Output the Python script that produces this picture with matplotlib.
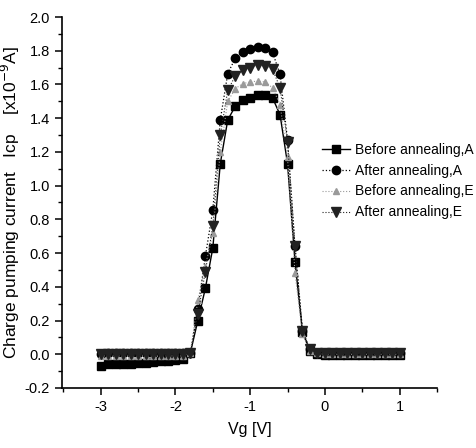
import matplotlib
matplotlib.use("Agg")
import matplotlib.pyplot as plt
from matplotlib.ticker import MultipleLocator

plt.rcParams['font.family'] = ['Liberation Sans', 'DejaVu Sans']
plt.rcParams['axes.unicode_minus'] = False

vg = [-3.0, -2.9, -2.8, -2.7, -2.6, -2.5, -2.4, -2.3, -2.2, -2.1, -2.0,
      -1.9, -1.8, -1.7, -1.6, -1.5, -1.4, -1.3, -1.2, -1.1, -1.0,
      -0.9, -0.8, -0.7, -0.6, -0.5, -0.4, -0.3, -0.2, -0.1, 0.0,
      0.1, 0.2, 0.3, 0.4, 0.5, 0.6, 0.7, 0.8, 0.9, 1.0]

before_A = [-0.07, -0.06, -0.06, -0.055, -0.055, -0.05, -0.05, -0.045, -0.04, -0.04, -0.035,
            -0.03, 0.01, 0.20, 0.39, 0.63, 1.13, 1.39, 1.47, 1.51, 1.52,
            1.535, 1.535, 1.52, 1.42, 1.13, 0.55, 0.13, 0.02, 0.0, -0.005,
            -0.005, -0.005, -0.005, -0.005, -0.005, -0.005, -0.005, -0.005, -0.005, -0.005]

after_A = [0.0, 0.005, 0.005, 0.005, 0.005, 0.005, 0.005, 0.005, 0.005, 0.005, 0.005,
           0.005, 0.01, 0.27, 0.58, 0.855, 1.39, 1.665, 1.755, 1.795, 1.81,
           1.82, 1.815, 1.79, 1.66, 1.27, 0.64, 0.14, 0.03, 0.01, 0.01,
           0.01, 0.01, 0.01, 0.01, 0.01, 0.01, 0.01, 0.01, 0.01, 0.01]

before_E = [-0.01, -0.01, -0.01, -0.01, -0.01, -0.01, -0.01, -0.01, -0.01, -0.01, -0.01,
            -0.01, 0.01, 0.32, 0.52, 0.72, 1.20, 1.50, 1.575, 1.605, 1.615,
            1.62, 1.615, 1.58, 1.48, 1.17, 0.48, 0.12, 0.02, 0.005, 0.0,
            0.0, 0.0, 0.0, 0.0, 0.0, 0.0, 0.0, 0.0, 0.0, 0.0]

after_E = [0.0, 0.0, 0.0, 0.0, 0.0, 0.0, 0.0, 0.0, 0.0, 0.0, 0.0,
           0.0, 0.01, 0.24, 0.49, 0.76, 1.30, 1.565, 1.65, 1.685, 1.70,
           1.715, 1.71, 1.69, 1.58, 1.26, 0.64, 0.14, 0.03, 0.01, 0.005,
           0.005, 0.005, 0.005, 0.005, 0.005, 0.005, 0.005, 0.005, 0.005, 0.005]

labels = ["Before annealing,A", "After annealing,A", "Before annealing,E", "After annealing,E"]

fig = plt.figure(figsize=(4.76, 4.48), dpi=100)
ax = fig.add_axes([0.130, 0.134, 0.788, 0.828])

ax.plot(vg, before_A, color='black', lw=1.0, ls='-', marker='s', ms=5.5, label=labels[0])
ax.plot(vg, after_A, color='black', lw=0.9, ls=':', marker='o', ms=6, label=labels[1])
ax.plot(vg, before_E, color='#9a9a9a', lw=0.8, ls=':', marker='^', ms=5, label=labels[2])
ax.plot(vg, after_E, color='#222222', lw=0.8, ls=':', marker='v', ms=6.5, label=labels[3])

ax.set_xlim(-3.52, 1.5)
ax.set_ylim(-0.2, 2.0)
ax.xaxis.set_major_locator(MultipleLocator(1))
ax.xaxis.set_minor_locator(MultipleLocator(0.5))
ax.yaxis.set_major_locator(MultipleLocator(0.2))
ax.yaxis.set_minor_locator(MultipleLocator(0.1))
ax.yaxis.set_major_formatter(matplotlib.ticker.FormatStrFormatter('%.1f'))

for s in ['top', 'right']:
    ax.spines[s].set_visible(False)
for s in ['left', 'bottom']:
    ax.spines[s].set_linewidth(1.2)

ax.tick_params(axis='both', which='major', direction='out', length=5, width=1.1, labelsize=10.5)
ax.tick_params(axis='both', which='minor', direction='out', length=3, width=1.0)

ax.set_xlabel('Vg [V]', fontsize=11.5, labelpad=6)
ax.set_ylabel(r'Charge pumping current   Icp    [x10$^{-9}$A]', fontsize=12.5, labelpad=2)

leg = ax.legend(loc='center left', bbox_to_anchor=(322/476, 1 - 181/448),
                bbox_transform=fig.transFigure, frameon=False, fontsize=10,
                handlelength=2.0, handletextpad=0.4, labelspacing=0.5,
                borderpad=0, borderaxespad=0)

fig.savefig('out.png', dpi=100)
